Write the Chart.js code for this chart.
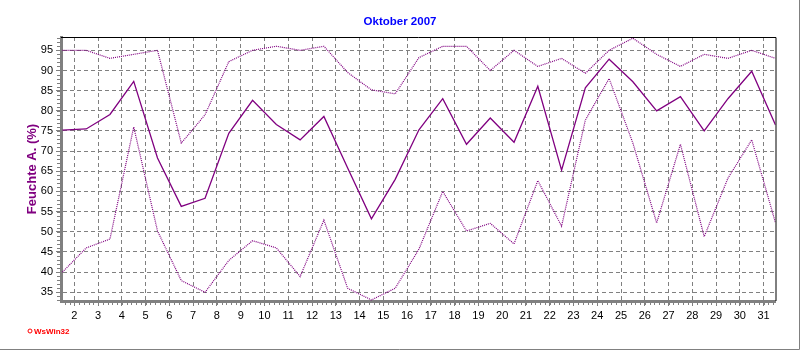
<!DOCTYPE html>
<html>
<head>
<meta charset="utf-8">
<title>Oktober 2007</title>
<script src="https://cdn.jsdelivr.net/npm/chart.js@4.4.1/dist/chart.umd.min.js"></script>
<style>
  body { margin: 0; background: #fff; }
  canvas { display: block; }
</style>
</head>
<body>
<canvas id="humidityChart" width="800" height="350"></canvas>
<script>
// Days of the month and daily humidity values (%)
const days = [1, 2, 3, 4, 5, 6, 7, 8, 9, 10, 11, 12, 13, 14, 15, 16, 17, 18, 19, 20,
    21, 22, 23, 24, 25, 26, 27, 28, 29, 30, 31];
const maxValues = [95, 95, 93, 94, 95, 72, 79, 92.2, 95, 96, 95, 96, 89.5, 85.2, 84.2, 93.2,
    96, 96, 90, 95, 91, 93, 89.3, 95, 98, 94, 91, 94, 93, 95, 93];
const meanValues = [75.2, 75.5, 79.1, 87.3, 68.3, 56.3, 58.3, 74.4, 82.6, 76.6, 72.8, 78.6,
    65.8, 53.2, 63, 75.3, 83, 71.7, 78.2, 72.2, 86.1, 65.3, 85.7, 92.8, 87.2, 80, 83.5,
    75, 83, 89.8, 76.5];
const minValues = [40, 46, 48.2, 76, 50.2, 37.9, 35, 42.9, 47.8, 46, 38.9, 52.9, 36, 33.1,
    36, 45.7, 60, 50.2, 52.1, 47, 62.7, 51.4, 77.7, 88, 72, 52.2, 71.7, 48.8, 63.3, 72.8, 52.2];
const xTickLabels = [2, 3, 4, 5, 6, 7, 8, 9, 10, 11, 12, 13, 14, 15, 16, 17, 18, 19, 20,
    21, 22, 23, 24, 25, 26, 27, 28, 29, 30, 31];
const yTickLabels = [35, 40, 45, 50, 55, 60, 65, 70, 75, 80, 85, 90, 95];

const FONT = "'Liberation Sans', Arial, sans-serif";
const PURPLE = "#800080";
const GRID = "#808080";

// each day's value sits in the middle of its day
const toPoints = (values) => values.map((v, i) => ({ x: days[i] + 0.5, y: v }));

// frame, minor ticks and the little logo
const decorations = {
    id: "decorations",
    afterDraw(chart) {
        const { ctx, chartArea, scales } = chart;
        const { left, right, top, bottom } = chartArea;
        ctx.save();

        // top and right border of the plot
        ctx.strokeStyle = "#000";
        ctx.lineWidth = 1;
        ctx.beginPath();
        ctx.moveTo(left, top + 0.5);
        ctx.lineTo(right + 0.5, top + 0.5);
        ctx.lineTo(right + 0.5, bottom);
        ctx.stroke();

        // minor ticks
        ctx.strokeStyle = GRID;
        ctx.beginPath();
        for (let v = Math.ceil(scales.y.min); v <= scales.y.max; v++) {
            const y = Math.round(scales.y.getPixelForValue(v)) + 0.5;
            ctx.moveTo(left - 4, y);
            ctx.lineTo(left - 1, y);
        }
        for (let d = 1.6; d < scales.x.max; d += 0.2) {
            const x = Math.round(scales.x.getPixelForValue(d)) + 0.5;
            ctx.moveTo(x, bottom + 1);
            ctx.lineTo(x, bottom + 4);
        }
        ctx.stroke();

        // outer frame of the picture
        ctx.beginPath();
        ctx.moveTo(0, 349.5);
        ctx.lineTo(799.5, 349.5);
        ctx.lineTo(799.5, 0);
        ctx.stroke();

        // WsWin32 mark
        ctx.fillStyle = "#ff0000";
        ctx.strokeStyle = "#ff0000";
        ctx.beginPath();
        ctx.arc(30, 331, 2, 0, Math.PI * 2);
        ctx.stroke();
        ctx.font = "bold 8px " + FONT;
        ctx.textBaseline = "middle";
        ctx.fillText("WsWin32", 34, 331.5);
        ctx.restore();
    }
};

const ctx = document.getElementById("humidityChart").getContext("2d");
new Chart(ctx, {
    type: "line",
    data: {
        datasets: [
            {
                label: "Max",
                data: toPoints(maxValues),
                borderColor: PURPLE,
                borderWidth: 1.2,
                borderDash: [1, 1],
                pointRadius: 0,
                tension: 0
            },
            {
                label: "Mittel",
                data: toPoints(meanValues),
                borderColor: PURPLE,
                borderWidth: 1.3,
                pointRadius: 0,
                tension: 0
            },
            {
                label: "Min",
                data: toPoints(minValues),
                borderColor: PURPLE,
                borderWidth: 1.2,
                borderDash: [1, 1],
                pointRadius: 0,
                tension: 0
            }
        ]
    },
    options: {
        responsive: false,
        animation: false,
        layout: { padding: 0 },
        plugins: {
            legend: { display: false },
            tooltip: { enabled: false },
            title: {
                display: true,
                text: "Oktober 2007",
                color: "#0000ff",
                font: { family: FONT, size: 11.5, weight: "bold" },
                padding: { top: 15, bottom: 8.2 }
            }
        },
        scales: {
            x: {
                type: "linear",
                min: 1.44,
                max: 31.5,
                afterBuildTicks: (scale) => {
                    scale.ticks = xTickLabels.map((v) => ({ value: v }));
                },
                afterFit: (scale) => { scale.height = 49; },
                ticks: {
                    autoSkip: false,
                    maxRotation: 0,
                    padding: 3,
                    color: "#000",
                    font: { family: FONT, size: 11 }
                },
                grid: {
                    color: GRID,
                    tickColor: GRID,
                    tickLength: 5,
                    tickBorderDash: []
                },
                border: { color: GRID, width: 3, dash: [4, 3] }
            },
            y: {
                min: 32.84,
                max: 98.3,
                afterBuildTicks: (scale) => {
                    scale.ticks = yTickLabels.map((v) => ({ value: v }));
                },
                afterFit: (scale) => { scale.width = 61; },
                ticks: {
                    padding: 3,
                    color: "#000",
                    font: { family: FONT, size: 11 }
                },
                grid: {
                    color: GRID,
                    tickColor: GRID,
                    tickLength: 5,
                    tickBorderDash: []
                },
                border: { color: GRID, width: 3, dash: [4, 3] },
                title: {
                    display: true,
                    text: "Feuchte A. (%)",
                    color: PURPLE,
                    font: { family: FONT, size: 13, weight: "bold" },
                    padding: { top: 25, bottom: 0 }
                }
            },
            // empty right margin so the title stays centred on the whole picture
            spacer: {
                type: "linear",
                position: "right",
                afterFit: (scale) => { scale.width = 24.5; },
                ticks: { display: false },
                grid: { display: false },
                border: { display: false }
            }
        }
    },
    plugins: [decorations]
});
</script>
</body>
</html>
